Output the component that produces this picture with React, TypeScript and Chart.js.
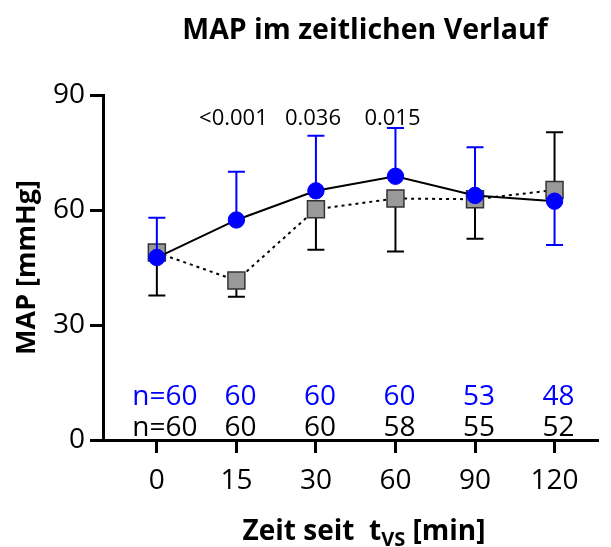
import React, { useEffect, useRef } from 'react';
import { Chart, registerables } from 'chart.js';

Chart.register(...registerables);

const categories = ['0', '15', '30', '60', '90', '120'];
const blueMean = [47.6, 57.4, 65.0, 68.8, 63.8, 62.3];
const blueErrEnd = [58.0, 70.0, 79.4, 81.4, 76.4, 50.9];
const greyMean = [48.9, 41.6, 60.2, 63.0, 62.8, 65.2];
const greyErrEnd = [37.7, 37.4, 49.6, 49.2, 52.5, 80.3];
const pValues = ['', '<0.001', '0.036', '0.015', '', ''];
const nBlue = ['n=60', '60', '60', '60', '53', '48'];
const nGrey = ['n=60', '60', '60', '58', '55', '52'];
const yTicks = [0, 30, 60, 90];

const FONT = '"Open Sans", "Noto Sans", sans-serif';
const BLUE = '#0000FF';

function drawErrorBars(chart: any, means: number[], ends: number[], color: string) {
  const { ctx } = chart;
  const xs = chart.scales.x;
  const ys = chart.scales.y;
  ctx.save();
  ctx.strokeStyle = color;
  ctx.lineWidth = 2;
  for (let i = 0; i < means.length; i++) {
    const px = xs.getPixelForValue(i);
    const y1 = ys.getPixelForValue(means[i]);
    const y2 = ys.getPixelForValue(ends[i]);
    ctx.beginPath();
    ctx.moveTo(px, y1);
    ctx.lineTo(px, y2);
    ctx.moveTo(px - 8.5, y2);
    ctx.lineTo(px + 8.5, y2);
    ctx.stroke();
  }
  ctx.restore();
}

const annotationPlugin = {
  id: 'annotations',
  beforeDatasetDraw(chart: any, args: any) {
    if (args.index === 1) drawErrorBars(chart, greyMean, greyErrEnd, '#000000');
    if (args.index === 0) drawErrorBars(chart, blueMean, blueErrEnd, BLUE);
  },
  afterDraw(chart: any) {
    const { ctx, chartArea } = chart;
    const xs = chart.scales.x;
    ctx.save();
    // Title
    ctx.fillStyle = '#000';
    ctx.textBaseline = 'alphabetic';
    ctx.textAlign = 'center';
    ctx.font = `bold 28.5px ${FONT}`;
    ctx.fillText('MAP im zeitlichen Verlauf', 365, 38.5);

    // p-values
    ctx.font = `22px ${FONT}`;
    pValues.forEach((p, i) => {
      if (!p) return;
      ctx.fillText(p, xs.getPixelForValue(i) - 3, 125);
    });

    // n rows
    ctx.font = `28px ${FONT}`;
    nBlue.forEach((t, i) => {
      ctx.fillStyle = BLUE;
      ctx.fillText(t, xs.getPixelForValue(i) + (i === 0 ? 8 : 4), chartArea.bottom - 35);
    });
    nGrey.forEach((t, i) => {
      ctx.fillStyle = '#000';
      ctx.fillText(t, xs.getPixelForValue(i) + (i === 0 ? 8 : 4), chartArea.bottom - 4.5);
    });

    // X axis title with subscript
    ctx.fillStyle = '#000';
    ctx.textAlign = 'left';
    const mainFont = `bold 28px ${FONT}`;
    const subFont = `bold 20px ${FONT}`;
    const p1 = 'Zeit seit  t';
    const p2 = 'VS';
    const p3 = ' [min]';
    ctx.font = mainFont;
    const w1 = ctx.measureText(p1).width;
    const w3 = ctx.measureText(p3).width;
    ctx.font = subFont;
    const w2 = ctx.measureText(p2).width;
    const total = w1 + w2 + w3;
    let x = 364 - total / 2;
    const base = 539.5;
    ctx.font = mainFont;
    ctx.fillText(p1, x, base);
    x += w1;
    ctx.font = subFont;
    ctx.fillText(p2, x, base + 6.5);
    x += w2;
    ctx.font = mainFont;
    ctx.fillText(p3, x, base);
    ctx.restore();
  },
};

export default function App() {
  const canvasRef = useRef<HTMLCanvasElement | null>(null);

  useEffect(() => {
    document.body.style.margin = '0';
    const canvas = canvasRef.current;
    if (!canvas) return;
    const chart = new Chart(canvas, {
      type: 'line',
      data: {
        datasets: [
          {
            label: 'blue',
            data: blueMean.map((v, i) => ({ x: i, y: v })),
            borderColor: '#000000',
            borderWidth: 2,
            pointStyle: 'circle',
            pointRadius: 8.2,
            pointBackgroundColor: BLUE,
            pointBorderColor: BLUE,
            pointBorderWidth: 1,
            fill: false,
            tension: 0,
          },
          {
            label: 'grey',
            data: greyMean.map((v, i) => ({ x: i, y: v })),
            borderColor: '#000000',
            borderWidth: 2,
            borderDash: [3, 4],
            pointStyle: 'rect',
            pointRadius: 12,
            pointBackgroundColor: '#999999',
            pointBorderColor: '#333333',
            pointBorderWidth: 1.5,
            fill: false,
            tension: 0,
          },
        ],
      },
      options: {
        animation: false,
        responsive: false,
        devicePixelRatio: 1,
        layout: { padding: { top: 95, left: 0, right: 0, bottom: 0 } },
        plugins: {
          legend: { display: false },
          title: { display: false },
          tooltip: { enabled: false },
        },
        scales: {
          x: {
            type: 'linear',
            min: -0.677,
            max: 5.54,
            afterBuildTicks: (s: any) => {
              s.ticks = categories.map((_, i) => ({ value: i }));
            },
            afterFit: (s: any) => {
              s.height = 107;
            },
            ticks: {
              color: '#000',
              font: { family: FONT, size: 28 },
              padding: 11,
              autoSkip: false,
              maxRotation: 0,
              callback: (v: any) => categories[v] ?? '',
            },
            grid: {
              display: true,
              drawOnChartArea: false,
              drawTicks: true,
              tickLength: 13,
              lineWidth: 3,
              color: '#000',
            },
            border: { display: true, width: 3, color: '#000' },
          },
          y: {
            type: 'linear',
            min: 0,
            max: 90,
            afterBuildTicks: (s: any) => {
              s.ticks = yTicks.map((v) => ({ value: v }));
            },
            afterFit: (s: any) => {
              s.width = 103;
            },
            ticks: {
              color: '#000',
              font: { family: FONT, size: 28 },
              padding: 5,
            },
            grid: {
              display: true,
              drawOnChartArea: false,
              drawTicks: true,
              tickLength: 13,
              lineWidth: 3,
              color: '#000',
            },
            border: { display: true, width: 3, color: '#000' },
            title: {
              display: true,
              text: 'MAP [mmHg]',
              color: '#000',
              font: { family: FONT, size: 27, weight: 'bold' },
              padding: { top: 11, bottom: 0 },
            },
          },
        },
      },
      plugins: [annotationPlugin],
    } as any);
    return () => chart.destroy();
  }, []);

  return (
    <div style={{ width: 611, height: 547 }}>
      <canvas ref={canvasRef} width={611} height={547} style={{ display: 'block' }} />
    </div>
  );
}
